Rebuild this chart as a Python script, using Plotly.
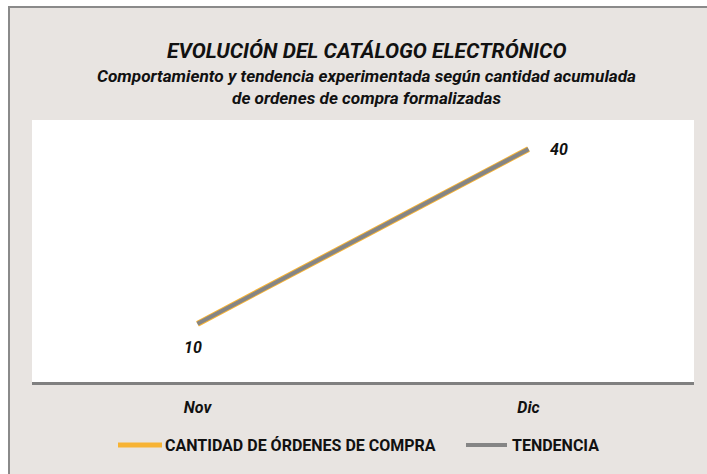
import plotly.graph_objects as go

categories = ["Nov", "Dic"]
ordenes = [10, 40]
tendencia = [10, 40]
legend_names = ["CANTIDAD DE ÓRDENES DE COMPRA", "TENDENCIA"]

title = "EVOLUCIÓN DEL CATÁLOGO ELECTRÓNICO"
subtitle1 = "Comportamiento y tendencia experimentada según cantidad acumulada"
subtitle2 = "de ordenes de compra formalizadas"

W, H = 707, 474
L, R, T, B = 32, 13, 120, 92
pw, ph = W - L - R, H - T - B

def px_x(p):
    return (p - L) / pw

def px_y(p):
    return (H - B - p) / ph

FONT = "Roboto"
PANEL = "#e8e4e1"
ORANGE = "#f7b334"
GRAY = "#858585"

fig = go.Figure()
fig.add_trace(go.Scatter(x=categories, y=ordenes, mode="lines", name=legend_names[0],
                         line=dict(color=ORANGE, width=6), showlegend=False))
fig.add_trace(go.Scatter(x=categories, y=tendencia, mode="lines", name=legend_names[1],
                         line=dict(color=GRAY, width=4), showlegend=False))

shifts = [(-5, -24), (30, 0)]
for c, v, (dx, dy) in zip(categories, ordenes, shifts):
    fig.add_annotation(x=c, y=v, xref="x", yref="y", text=f"<b><i>{v}</i></b>",
                       showarrow=False, xshift=dx, yshift=dy,
                       font=dict(family=FONT, size=16, color="#111"))

fig.add_annotation(x=px_x(366), y=px_y(37), xref="paper", yref="paper",
                   text=f"<b><i>{title}</i></b>", showarrow=False,
                   font=dict(family=FONT, size=21, color="#111"))
fig.add_annotation(x=px_x(366), y=px_y(64), xref="paper", yref="paper",
                   text=f"<b><i>{subtitle1}</i></b>", showarrow=False,
                   font=dict(family=FONT, size=17.2, color="#111"))
fig.add_annotation(x=px_x(366), y=px_y(86), xref="paper", yref="paper",
                   text=f"<b><i>{subtitle2}</i></b>", showarrow=False,
                   font=dict(family=FONT, size=17.2, color="#111"))

fig.add_shape(type="rect", xref="paper", yref="paper", layer="below",
              x0=px_x(9), x1=px_x(760), y0=px_y(7), y1=px_y(520),
              fillcolor=PANEL, line=dict(color="#8a8a8a", width=2))
fig.add_shape(type="rect", xref="paper", yref="paper", layer="below",
              x0=0, x1=1, y0=0, y1=1, fillcolor="white", line=dict(width=0))

# custom legend
legend_items = [(118, 162, 163, ORANGE, 5), (466, 507, 510, GRAY, 4)]
for name, (lx0, lx1, tx, col, lw) in zip(legend_names, legend_items):
    fig.add_shape(type="line", xref="paper", yref="paper",
                  x0=px_x(lx0), x1=px_x(lx1), y0=px_y(445), y1=px_y(445),
                  line=dict(color=col, width=lw))
    fig.add_annotation(x=px_x(tx), y=px_y(445), xref="paper", yref="paper",
                       xanchor="left", yanchor="middle", showarrow=False,
                       text=f"<b>{name}</b>",
                       font=dict(family=FONT, size=16, color="#111"))

fig.update_layout(
    width=W, height=H,
    margin=dict(l=L, r=R, t=T, b=B),
    paper_bgcolor="white", plot_bgcolor="white",
    showlegend=False,
    xaxis=dict(range=[-0.5, 1.5], showgrid=False, zeroline=False, showline=True,
               linecolor="#808080", linewidth=2.5, ticks="", ticklabelstandoff=9,
               tickfont=dict(family=FONT, size=16, color="#111", weight="bold", style="italic")),
    yaxis=dict(range=[0, 45], showgrid=False, zeroline=False, showline=False,
               showticklabels=False, ticks=""),
)

fig.write_html("out.html", config={"displayModeBar": False},
               post_script="document.body.style.margin='0px';document.body.style.overflow='hidden';")
